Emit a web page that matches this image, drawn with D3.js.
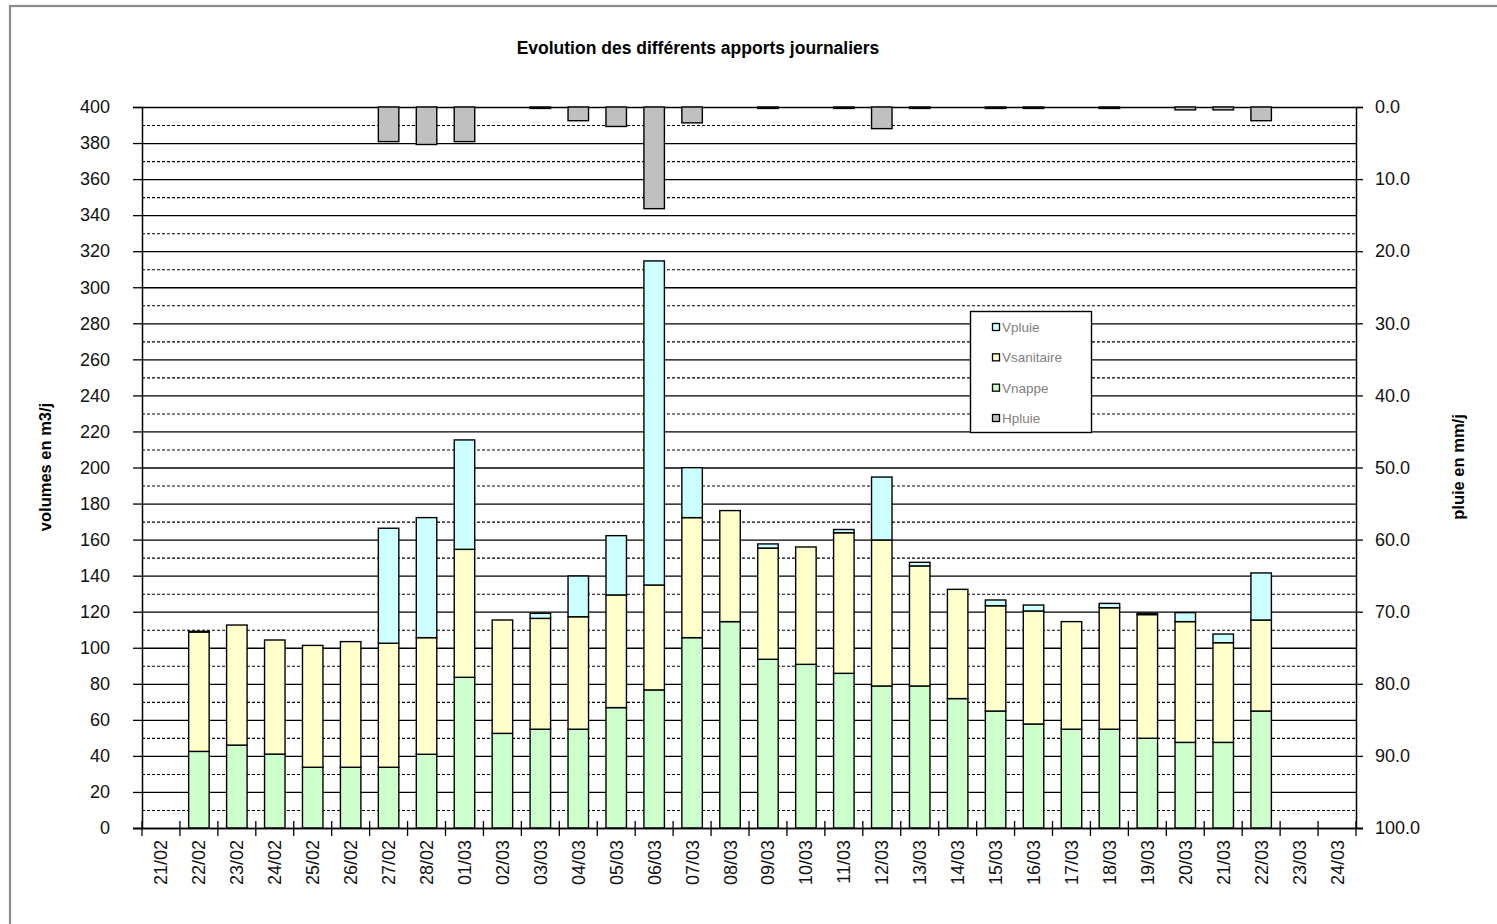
<!DOCTYPE html>
<html>
<head>
<meta charset="utf-8">
<script src="https://cdn.jsdelivr.net/npm/d3@7"></script>
<style>
  html, body { margin: 0; padding: 0; background: #fff; }
  svg { display: block; }
  text { font-family: "Liberation Sans", Arial, sans-serif; }
</style>
</head>
<body>
<svg id="chart" width="1497" height="924"></svg>
<script>
// ---- DATA ----
const categories = ["21/02","22/02","23/02","24/02","25/02","26/02","27/02","28/02",
  "01/03","02/03","03/03","04/03","05/03","06/03","07/03","08/03","09/03","10/03",
  "11/03","12/03","13/03","14/03","15/03","16/03","17/03","18/03","19/03","20/03",
  "21/03","22/03","23/03","24/03"];
const vnappe     = [null,42.5,46,41,33.7,33.7,33.7,40.9,83.6,52.5,54.8,54.8,66.8,76.6,105.6,114.5,93.6,90.8,85.8,78.8,78.8,71.8,64.9,57.7,54.8,54.8,49.8,47.5,47.5,64.9,null,null];
const vsanitaire = [null,66.2,66.6,63.3,67.6,69.7,68.8,64.7,71.0,62.9,61.5,62.4,62.5,58.2,66.6,61.6,61.7,65.1,78.0,81.0,66.6,60.6,58.4,62.7,59.7,67.4,68.6,67.0,55.3,50.5,null,null];
const vpluie     = [null,0.4,0,0,0,0,63.8,66.6,60.7,0,2.8,22.6,32.9,179.8,27.7,0,2.3,0,1.8,34.9,2.0,0,3.2,3.3,0,2.4,0.7,5.0,4.8,26.1,null,null];
const hpluie     = [null,0,0,0,0,0,4.8,5.2,4.8,0,0.2,1.9,2.7,14.1,2.2,0,0.2,0,0.2,3.0,0.2,0,0.2,0.2,0,0.2,0,0.4,0.4,1.9,null,null];
const leftTicks  = [0,20,40,60,80,100,120,140,160,180,200,220,240,260,280,300,320,340,360,380,400];
const rightTicks = [0,10,20,30,40,50,60,70,80,90,100];
const seriesKeys = ["Vnappe","Vsanitaire","Vpluie"];
const legendItems = ["Vpluie","Vsanitaire","Vnappe","Hpluie"];
const colors = {Vpluie:"#CCFFFF", Vsanitaire:"#FFFFCC", Vnappe:"#CCFFCC", Hpluie:"#C0C0C0"};
const titleText = "Evolution des différents apports journaliers";
const yLeftTitle = "volumes en m3/j";
const yRightTitle = "pluie en mm/j";

// ---- LAYOUT ----
const svg = d3.select("#chart");
const L = 142, R = 1356, T = 107, B = 828;

// outer frame
svg.append("rect").attr("x",10).attr("y",6).attr("width",1500).attr("height",940)
  .attr("fill","#fff").attr("stroke","#8a8a8a").attr("stroke-width",2.2);

const x = d3.scaleBand().domain(categories).range([L,R]).paddingInner(0.46).paddingOuter(0.23);
const y = d3.scaleLinear().domain([0,400]).range([B,T]);
const yR = d3.scaleLinear().domain([0,100]).range([T,B]);

// gridlines
const g = svg.append("g");
const minorVals = d3.range(10,400,20);
g.selectAll("line.minor").data(minorVals).join("line")
  .attr("x1",L).attr("x2",R).attr("y1",d=>y(d)+0.5).attr("y2",d=>y(d)+0.5)
  .attr("stroke","#000").attr("stroke-width",1.1).attr("stroke-dasharray","3,2");
g.selectAll("line.major").data(leftTicks).join("line")
  .attr("x1",L).attr("x2",R).attr("y1",d=>y(d)+0.5).attr("y2",d=>y(d)+0.5)
  .attr("stroke","#000").attr("stroke-width",1.3);

// stacked bars
const table = categories.map((c,i)=>({cat:c, Vnappe:vnappe[i]||0, Vsanitaire:vsanitaire[i]||0, Vpluie:vpluie[i]||0}));
const stacked = d3.stack().keys(seriesKeys)(table);
stacked.forEach(layer=>{
  svg.append("g").selectAll("rect").data(layer.filter(d=>d[1]-d[0]>0)).join("rect")
    .attr("x",d=>x(d.data.cat)).attr("width",x.bandwidth())
    .attr("y",d=>y(d[1])).attr("height",d=>y(d[0])-y(d[1]))
    .attr("fill",colors[layer.key]).attr("stroke","#000").attr("stroke-width",1.4);
});

// Hpluie bars (from top, right axis)
const hData = categories.map((c,i)=>({cat:c, v:hpluie[i]})).filter(d=>d.v);
svg.append("g").selectAll("rect").data(hData).join("rect")
  .attr("x",d=>x(d.cat)).attr("width",x.bandwidth())
  .attr("y",yR(0)).attr("height",d=>yR(d.v)-yR(0))
  .attr("fill",colors.Hpluie).attr("stroke","#000").attr("stroke-width",1.4);

// axes
const fs = "18px";
const axL = svg.append("g").attr("transform",`translate(${L},0)`)
  .call(d3.axisLeft(y).tickValues(leftTicks).tickSize(9).tickPadding(23).tickFormat(d3.format("d")));
const axR = svg.append("g").attr("transform",`translate(${R},0)`)
  .call(d3.axisRight(yR).tickValues(rightTicks).tickSize(7).tickPadding(12).tickFormat(d3.format(".1f")));
const axB = svg.append("g").attr("transform",`translate(0,${B})`)
  .call(d3.axisBottom(x).tickSize(0).tickFormat(d=>d));
[axL,axR,axB].forEach(a=>{
  a.select(".domain").attr("stroke","#000").attr("stroke-width",1.5);
  a.selectAll(".tick line").attr("stroke","#000").attr("stroke-width",1.3);
  a.selectAll("text").attr("font-size",fs).attr("fill","#111")
   .attr("font-family","'Liberation Sans', Arial, sans-serif");
});
axB.select(".domain").remove();
svg.append("line").attr("x1",L-9).attr("x2",R+7).attr("y1",B+0.5).attr("y2",B+0.5)
  .attr("stroke","#000").attr("stroke-width",1.5);
axB.selectAll(".tick text")
  .attr("transform","rotate(-90)").attr("text-anchor","end")
  .attr("x",-12).attr("y",0).attr("dy","0.36em");
// category boundary ticks (cross)
const bounds = categories.map(c=>x(c)-x.step()*x.paddingInner()/2);
bounds.push(R);
svg.append("g").selectAll("line").data(bounds).join("line")
  .attr("x1",d=>d).attr("x2",d=>d).attr("y1",B-7).attr("y2",B+8)
  .attr("stroke","#000").attr("stroke-width",1.3);

// titles
svg.append("text").attr("x",698).attr("y",54).attr("text-anchor","middle")
  .attr("font-size","17.5px").attr("font-weight","bold").text(titleText);
svg.append("text").attr("transform","translate(51,467) rotate(-90)").attr("text-anchor","middle")
  .attr("font-size","16.5px").attr("font-weight","bold").text(yLeftTitle);
svg.append("text").attr("transform","translate(1464,467) rotate(-90)").attr("text-anchor","middle")
  .attr("font-size","16.5px").attr("font-weight","bold").text(yRightTitle);

// legend
const lg = svg.append("g");
lg.append("rect").attr("x",970.5).attr("y",311.5).attr("width",121).attr("height",121)
  .attr("fill","#fff").attr("stroke","#000").attr("stroke-width",1.4);
const ly = d3.scalePoint().domain(legendItems).range([327,418]);
legendItems.forEach(k=>{
  lg.append("rect").attr("x",992.5).attr("y",ly(k)-3.5).attr("width",7).attr("height",7)
    .attr("fill",colors[k]).attr("stroke","#000").attr("stroke-width",1.3);
  lg.append("text").attr("x",1002).attr("y",ly(k)).attr("dy","0.36em")
    .attr("font-size","13.5px").attr("fill","#808080").text(k);
});
</script>
</body>
</html>
